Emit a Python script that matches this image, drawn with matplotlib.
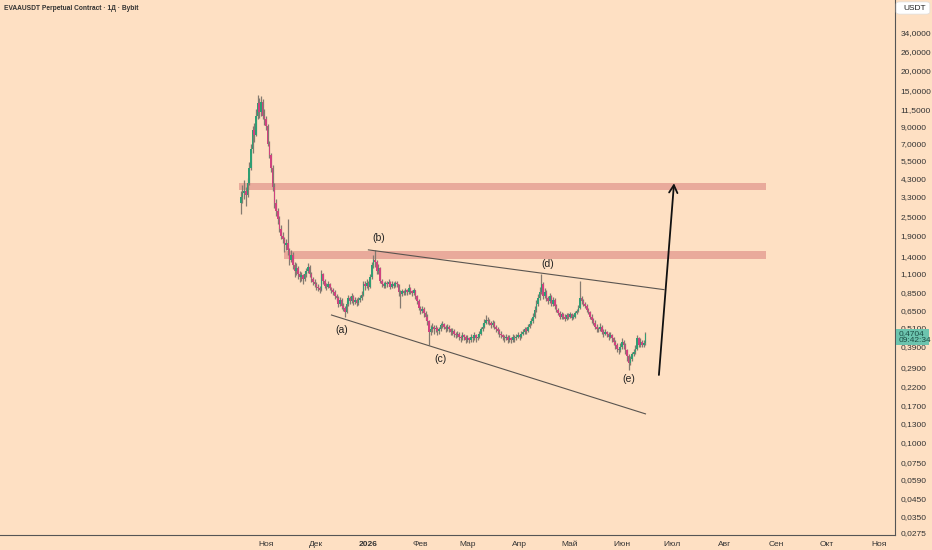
import datetime as dt
import numpy as np
import pandas as pd
import matplotlib
matplotlib.use("Agg")
import matplotlib.pyplot as plt
import matplotlib.dates as mdates
from matplotlib.patches import FancyBboxPatch

# daily candles, 17 Oct 2025 .. 15 Jun 2026
start_date = "2025-10-17"
first_open = 3.0
closes = [
    3.3, 3.5, 3.6, 3.4, 4.0, 5.0, 6.5, 8.5, 8.0, 10.5,
    12.5, 11.0, 12.8, 10.5, 10.0, 9.0, 7.0, 6.0, 5.0, 3.8,
    3.0, 2.7, 2.4, 2.1, 1.9, 1.8, 1.65, 1.7, 1.55, 1.35,
    1.45, 1.25, 1.15, 1.2, 1.1, 1.05, 1.08, 1.02, 1.1, 1.15,
    1.22, 1.1, 1.02, 0.98, 0.95, 0.92, 0.9, 0.88, 1.1, 1.0,
    0.93, 0.92, 0.95, 0.9, 0.87, 0.85, 0.8, 0.78, 0.72, 0.76,
    0.7, 0.68, 0.64, 0.72, 0.78, 0.75, 0.8, 0.74, 0.76, 0.73,
    0.76, 0.78, 0.82, 0.95, 0.93, 0.97, 0.92, 1.05, 1.25, 1.35,
    1.3, 1.15, 1.2, 1.0, 0.95, 0.93, 0.97, 0.95, 0.98, 0.92,
    0.96, 0.93, 0.97, 0.95, 0.85, 0.83, 0.86, 0.84, 0.87, 0.85,
    0.9, 0.86, 0.84, 0.87, 0.8, 0.75, 0.68, 0.65, 0.67, 0.63,
    0.6, 0.56, 0.48, 0.5, 0.52, 0.5, 0.51, 0.49, 0.5, 0.53,
    0.54, 0.52, 0.5, 0.52, 0.5, 0.48, 0.49, 0.47, 0.46, 0.47,
    0.45, 0.44, 0.46, 0.45, 0.43, 0.44, 0.43, 0.45, 0.44, 0.46,
    0.44, 0.45, 0.47, 0.5, 0.52, 0.55, 0.57, 0.56, 0.55, 0.53,
    0.55, 0.52, 0.5, 0.49, 0.47, 0.46, 0.45, 0.44, 0.45, 0.43,
    0.44, 0.43, 0.45, 0.44, 0.45, 0.46, 0.45, 0.47, 0.48, 0.5,
    0.49, 0.52, 0.54, 0.56, 0.6, 0.66, 0.72, 0.78, 0.85, 0.95,
    0.8, 0.85, 0.78, 0.75, 0.8, 0.72, 0.76, 0.7, 0.66, 0.63,
    0.6, 0.62, 0.6, 0.58, 0.61, 0.6, 0.62, 0.59, 0.6, 0.63,
    0.65, 0.68, 0.78, 0.75, 0.72, 0.7, 0.66, 0.64, 0.6, 0.57,
    0.55, 0.52, 0.5, 0.5, 0.52, 0.48, 0.47, 0.48, 0.47, 0.45,
    0.46, 0.44, 0.42, 0.4, 0.38, 0.37, 0.39, 0.42, 0.4, 0.37,
    0.34, 0.31, 0.33, 0.35, 0.36, 0.38, 0.44, 0.4, 0.42, 0.4,
    0.41, 0.4704,
]
highs = [
    3.6, 3.9, 4.2, 3.8, 4.3, 5.4, 7.0, 9.0, 9.5, 11.5,
    14.0, 13.5, 13.8, 13.2, 11.5, 10.5, 9.3, 7.3, 6.2, 5.2,
    4.0, 3.2, 2.8, 2.5, 2.2, 2.0, 1.85, 1.8, 2.4, 1.6,
    1.55, 1.5, 1.3, 1.28, 1.24, 1.14, 1.13, 1.1, 1.14, 1.2,
    1.28, 1.25, 1.13, 1.05, 1.02, 0.98, 0.95, 0.93, 1.17, 1.12,
    1.02, 0.97, 0.99, 0.97, 0.92, 0.9, 0.87, 0.83, 0.8, 0.79,
    0.78, 0.73, 0.7, 0.75, 0.82, 0.8, 0.84, 0.82, 0.79, 0.78,
    0.79, 0.81, 0.86, 0.99, 1.0, 1.02, 0.99, 1.1, 1.3, 1.45,
    1.55, 1.34, 1.27, 1.22, 1.03, 0.98, 1.0, 0.99, 1.02, 1.0,
    0.99, 0.98, 1.0, 0.99, 0.96, 0.88, 0.89, 0.88, 0.9, 0.89,
    0.96, 0.92, 0.88, 0.9, 0.88, 0.82, 0.77, 0.7, 0.7, 0.69,
    0.65, 0.62, 0.57, 0.53, 0.55, 0.53, 0.53, 0.52, 0.52, 0.55,
    0.56, 0.55, 0.53, 0.54, 0.53, 0.51, 0.51, 0.5, 0.48, 0.49,
    0.48, 0.46, 0.48, 0.47, 0.46, 0.46, 0.45, 0.47, 0.46, 0.48,
    0.47, 0.47, 0.49, 0.52, 0.55, 0.58, 0.61, 0.6, 0.58, 0.56,
    0.57, 0.56, 0.53, 0.52, 0.5, 0.49, 0.47, 0.46, 0.47, 0.46,
    0.46, 0.45, 0.47, 0.46, 0.47, 0.48, 0.47, 0.49, 0.5, 0.52,
    0.52, 0.54, 0.56, 0.59, 0.63, 0.7, 0.76, 0.83, 0.92, 1.1,
    0.98, 0.9, 0.87, 0.8, 0.84, 0.82, 0.79, 0.78, 0.72, 0.68,
    0.65, 0.64, 0.63, 0.62, 0.63, 0.63, 0.64, 0.63, 0.62, 0.65,
    0.67, 0.71, 1.0, 0.8, 0.77, 0.74, 0.72, 0.68, 0.65, 0.62,
    0.59, 0.57, 0.54, 0.52, 0.55, 0.53, 0.5, 0.5, 0.49, 0.48,
    0.48, 0.47, 0.45, 0.43, 0.41, 0.39, 0.41, 0.44, 0.43, 0.41,
    0.38, 0.35, 0.34, 0.36, 0.38, 0.4, 0.46, 0.45, 0.44, 0.43,
    0.43, 0.48,
]
lows = [
    2.6, 3.0, 3.2, 2.9, 3.3, 3.9, 4.8, 6.2, 7.2, 7.8,
    10.0, 10.2, 10.5, 10.0, 9.2, 8.5, 6.8, 5.7, 4.7, 3.6,
    2.8, 2.5, 2.25, 2.0, 1.8, 1.7, 1.5, 1.55, 1.45, 1.25,
    1.3, 1.18, 1.05, 1.08, 1.02, 0.98, 1.0, 0.96, 1.0, 1.06,
    1.12, 1.06, 0.98, 0.94, 0.91, 0.88, 0.86, 0.84, 0.86, 0.96,
    0.9, 0.88, 0.9, 0.87, 0.84, 0.82, 0.77, 0.75, 0.69, 0.7,
    0.67, 0.65, 0.6, 0.63, 0.7, 0.72, 0.73, 0.71, 0.72, 0.7,
    0.71, 0.74, 0.76, 0.8, 0.88, 0.9, 0.88, 0.9, 1.02, 1.2,
    1.22, 1.1, 1.1, 0.97, 0.92, 0.9, 0.9, 0.91, 0.93, 0.89,
    0.9, 0.9, 0.91, 0.92, 0.8, 0.68, 0.8, 0.81, 0.82, 0.82,
    0.83, 0.83, 0.8, 0.81, 0.77, 0.72, 0.66, 0.62, 0.63, 0.6,
    0.57, 0.53, 0.4, 0.46, 0.48, 0.47, 0.48, 0.46, 0.47, 0.49,
    0.51, 0.5, 0.48, 0.49, 0.48, 0.46, 0.46, 0.45, 0.44, 0.45,
    0.43, 0.42, 0.43, 0.43, 0.41, 0.42, 0.41, 0.42, 0.42, 0.43,
    0.42, 0.43, 0.44, 0.46, 0.49, 0.51, 0.54, 0.54, 0.53, 0.51,
    0.52, 0.5, 0.48, 0.47, 0.45, 0.44, 0.43, 0.42, 0.43, 0.41,
    0.42, 0.41, 0.42, 0.42, 0.43, 0.44, 0.43, 0.44, 0.46, 0.47,
    0.47, 0.48, 0.51, 0.53, 0.55, 0.59, 0.64, 0.7, 0.76, 0.83,
    0.77, 0.78, 0.75, 0.72, 0.73, 0.7, 0.7, 0.67, 0.64, 0.61,
    0.58, 0.58, 0.58, 0.56, 0.57, 0.58, 0.59, 0.57, 0.58, 0.59,
    0.62, 0.64, 0.67, 0.72, 0.7, 0.68, 0.64, 0.62, 0.58, 0.55,
    0.53, 0.5, 0.48, 0.48, 0.49, 0.47, 0.45, 0.46, 0.45, 0.43,
    0.44, 0.42, 0.4, 0.38, 0.36, 0.35, 0.36, 0.38, 0.38, 0.35,
    0.32, 0.28, 0.3, 0.32, 0.34, 0.35, 0.37, 0.39, 0.39, 0.39,
    0.39, 0.4,
]

# drawings on the chart
zone_hi = (dt.date(2025, 10, 16), dt.date(2026, 8, 26), 3.63, 4.01)
zone_lo = (dt.date(2025, 11, 12), dt.date(2026, 8, 26), 1.36, 1.53)
trend_top = ([dt.date(2026, 1, 1), dt.date(2026, 6, 26)], [1.55, 0.88])
trend_bot = ([dt.date(2025, 12, 10), dt.date(2026, 6, 15)], [0.613, 0.15])
arrow_from = (dt.date(2026, 6, 23), 0.261)
arrow_to = (dt.date(2026, 7, 2), 4.0)
wave_labels = ["(a)", "(b)", "(c)", "(d)", "(e)"]
wave_dates = [dt.date(2025, 12, 16), dt.date(2026, 1, 7), dt.date(2026, 2, 13),
              dt.date(2026, 4, 18), dt.date(2026, 6, 5)]
wave_prices = [0.498, 1.835, 0.328, 1.268, 0.2465]

price_ticks = [34, 26, 20, 15, 11.5, 9, 7, 5.5, 4.3, 3.3, 2.5, 1.9, 1.4, 1.1,
               0.85, 0.65, 0.51, 0.39, 0.29, 0.22, 0.17, 0.13, 0.1, 0.075,
               0.059, 0.045, 0.035, 0.0275]
month_names = ["Ноя", "Дек", "2026", "Фев", "Мар", "Апр", "Май", "Июн",
               "Июл", "Авг", "Сен", "Окт", "Ноя"]
last_price = "0,4704"
countdown = "09:42:34"

BG = "#fee0c3"
UP = "#2f9e73"
DOWN = "#d0437f"
WICK = "#847a70"
ZONE = "#e9aa9b"
TXT = "#333333"

plt.rcParams["font.family"] = ["Liberation Sans", "DejaVu Sans"]

dates = pd.date_range(start_date, periods=len(closes), freq="D")
x = mdates.date2num(dates.to_pydatetime())
c = np.array(closes)
o = np.concatenate([[first_open], c[:-1]])
h = np.array(highs)
l = np.array(lows)

fig = plt.figure(figsize=(9.32, 5.5), dpi=100)
fig.patch.set_facecolor(BG)
ax = fig.add_axes([0, 15 / 550, 895 / 932, 535 / 550])
ax.set_facecolor(BG)
ax.set_yscale("log")

# zones
for d0, d1, p0, p1 in (zone_hi, zone_lo):
    x0, x1 = mdates.date2num(d0), mdates.date2num(d1)
    ax.fill_between([x0, x1], p0, p1, color=ZONE, lw=0, zorder=1)

# candles
up = c >= o
ax.vlines(x, l, h, color=WICK, lw=0.9, zorder=2)
bottoms = np.minimum(o, c)
heights = np.abs(c - o)
heights = np.maximum(heights, bottoms * 0.01)
ax.bar(x[up], heights[up], bottom=bottoms[up], width=0.95, color=UP, lw=0, zorder=3)
ax.bar(x[~up], heights[~up], bottom=bottoms[~up], width=0.95, color=DOWN, lw=0, zorder=3)

# trend lines
for xs, ys in (trend_top, trend_bot):
    ax.plot(mdates.date2num(xs), ys, color="#5a5550", lw=0.8, zorder=4)

ax.annotate("", xy=(mdates.date2num(arrow_to[0]), arrow_to[1]),
            xytext=(mdates.date2num(arrow_from[0]), arrow_from[1]),
            arrowprops=dict(arrowstyle="->,head_length=0.55,head_width=0.3",
                            color="#111111", lw=1.3, shrinkA=0, shrinkB=0),
            zorder=5)

for lab, d, p in zip(wave_labels, wave_dates, wave_prices):
    ax.text(mdates.date2num(d), p, lab, fontsize=7.5, color="#222222",
            ha="center", va="center", zorder=5)

# axes limits
nov1 = mdates.date2num(dt.date(2025, 11, 1))
ax.set_xlim(nov1 - 158.4, nov1 + 374.6)
ax.set_ylim(0.02673, 54.4)

# month ticks
month_starts = pd.date_range("2025-11-01", periods=len(month_names), freq="MS")
ax.set_xticks(mdates.date2num(month_starts.to_pydatetime()))
ax.set_xticklabels(month_names)
for t in ax.get_xticklabels():
    t.set_fontsize(6)
    t.set_color(TXT)
    if t.get_text() == "2026":
        t.set_fontweight("bold")
ax.tick_params(axis="x", length=0, pad=4)

ax.yaxis.tick_right()
ax.set_yticks(price_ticks)
ax.set_yticklabels([f"{v:.4f}".replace(".", ",") for v in price_ticks])
ax.yaxis.set_minor_locator(matplotlib.ticker.NullLocator())
ax.tick_params(axis="y", length=0, pad=4, labelsize=6, labelcolor=TXT)

for side in ("top", "left"):
    ax.spines[side].set_visible(False)
ax.spines["right"].set_color("#555555")
ax.spines["bottom"].set_color("#555555")
ax.spines["right"].set_linewidth(0.8)
ax.spines["bottom"].set_linewidth(0.8)

# last price tag
tag = FancyBboxPatch((896 / 932, 1 - 345 / 550), 33 / 932, 16 / 550,
                     boxstyle="square,pad=0", transform=fig.transFigure,
                     facecolor="#6cc4ae", edgecolor="none", zorder=10)
fig.patches.append(tag)
fig.text(899 / 932, 1 - 333.5 / 550, last_price, fontsize=6, color="#1c4d44",
         va="center", ha="left", zorder=11)
fig.text(899 / 932, 1 - 340.5 / 550, countdown, fontsize=6, color="#1c4d44",
         va="center", ha="left", zorder=11)

# currency box
cur = FancyBboxPatch((898 / 932, 1 - 13 / 550), 30 / 932, 10 / 550,
                     boxstyle="round,pad=0.002,rounding_size=0.004",
                     transform=fig.transFigure, facecolor="white",
                     edgecolor="#dddddd", lw=0.5, zorder=10)
fig.patches.append(cur)
fig.text(903 / 932, 1 - 8.5 / 550, "USDT", fontsize=6, color="#222222",
         va="center", ha="left", zorder=11)

fig.text(4 / 932, 1 - 9 / 550, "EVAAUSDT Perpetual Contract · 1Д · Bybit",
         fontsize=4.8, fontweight="bold", color=TXT, va="center", ha="left")

fig.savefig("out.png", dpi=100, facecolor=BG)
